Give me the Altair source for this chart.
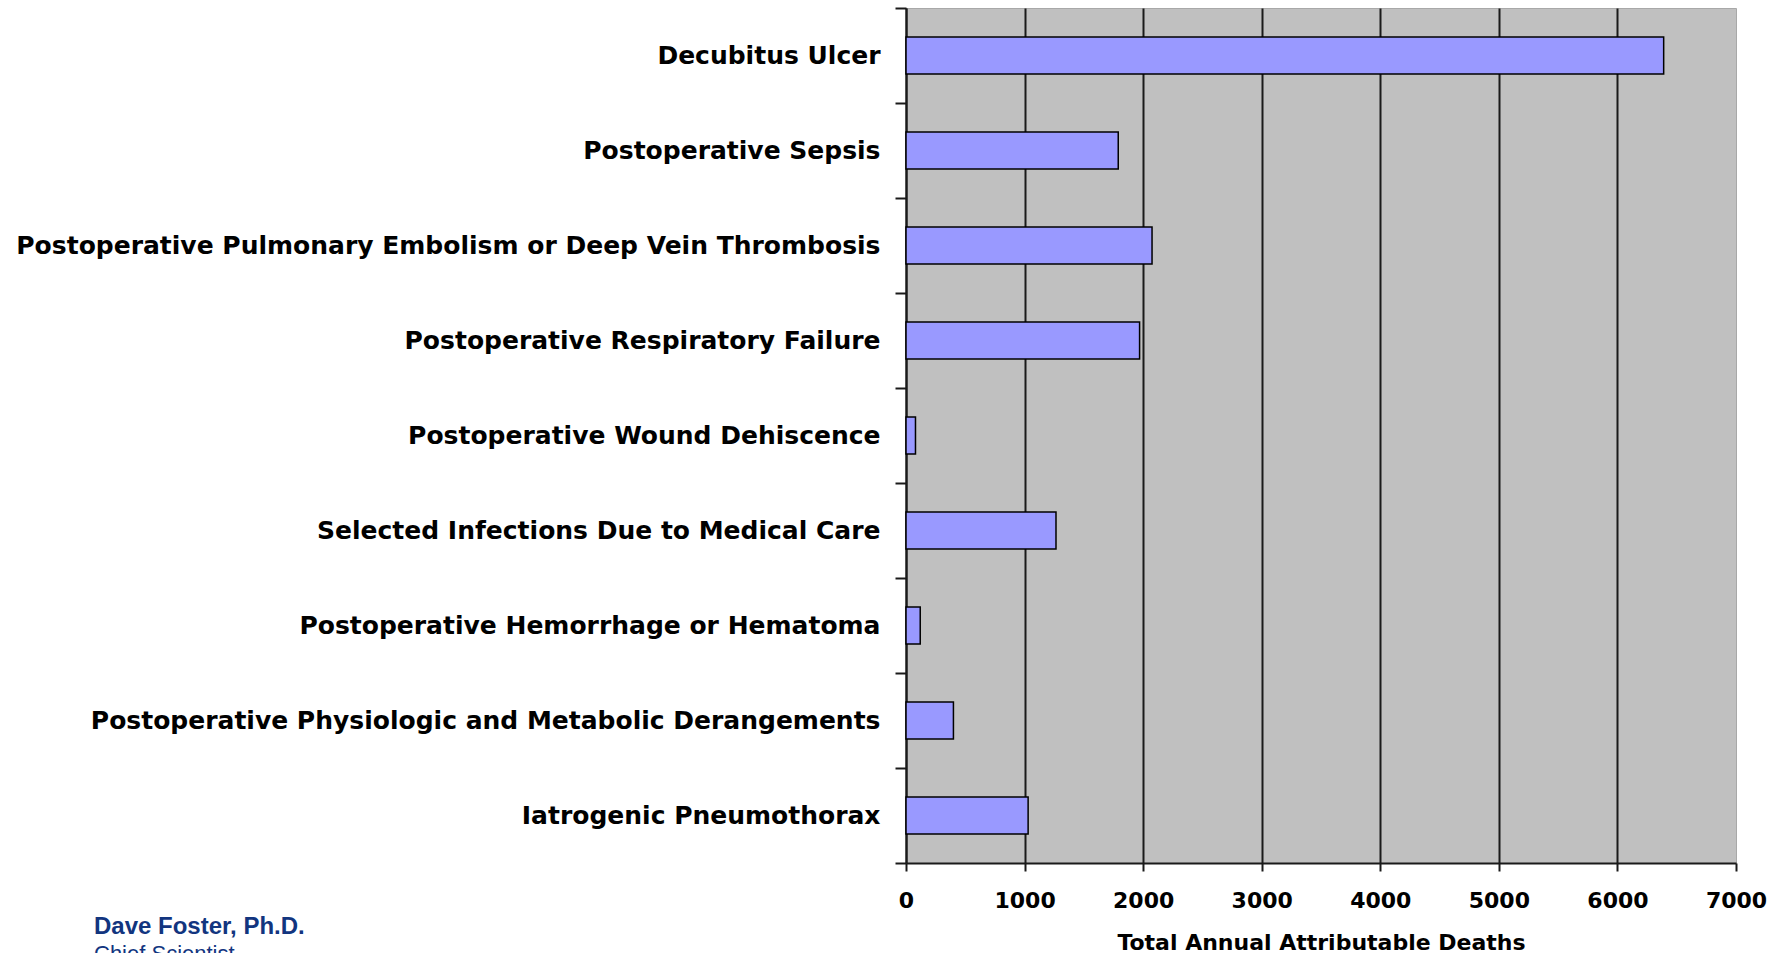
import altair as alt
import pandas as pd

categories = [
    "Decubitus Ulcer",
    "Postoperative Sepsis",
    "Postoperative Pulmonary Embolism or Deep Vein Thrombosis",
    "Postoperative Respiratory Failure",
    "Postoperative Wound Dehiscence",
    "Selected Infections Due to Medical Care",
    "Postoperative Hemorrhage or Hematoma",
    "Postoperative Physiologic and Metabolic Derangements",
    "Iatrogenic Pneumothorax",
]
deaths = [6390, 1790, 2075, 1970, 80, 1265, 120, 400, 1030]
x_ticks = [0, 1000, 2000, 3000, 4000, 5000, 6000, 7000]
x_title = "Total Annual Attributable Deaths"
author_name = ["Dave Foster, Ph.D."]
author_role = ["Chief Scientist"]

df = pd.DataFrame({"category": categories, "deaths": deaths})

bars = alt.Chart(df).mark_bar(
    color="#9999FF", stroke="#000000", strokeWidth=1.5,
    height=alt.RelativeBandSize(0.39),
).encode(
    x=alt.X(
        "deaths:Q",
        scale=alt.Scale(domain=[0, 7000], nice=False, zero=True),
        axis=alt.Axis(
            values=x_ticks,
            title=x_title,
            format="d",
            grid=True,
            gridColor="#1a1a1a",
            gridWidth=2,
            gridOpacity={"condition": {"test": "datum.value === 7000", "value": 0}, "value": 1},
            domainColor="#1a1a1a",
            domainWidth=2,
            tickColor="#1a1a1a",
            tickWidth=2,
            tickSize=8,
            labelFont="DejaVu Sans",
            labelFontWeight="bold",
            labelFontSize=22,
            labelColor="#000000",
            labelPadding=19,
            labelFlush=False,
            titleFont="DejaVu Sans",
            titleFontWeight="bold",
            titleFontSize=22,
            titleColor="#000000",
            titlePadding=21,
        ),
    ),
    y=alt.Y(
        "category:N",
        sort=categories,
        scale=alt.Scale(paddingInner=0, paddingOuter=0),
        axis=alt.Axis(
            title=None,
            tickBand="extent",
            grid=False,
            domainColor="#1a1a1a",
            domainWidth=2,
            tickColor="#1a1a1a",
            tickWidth=2,
            tickSize=11,
            labelFont="DejaVu Sans",
            labelFontWeight="bold",
            labelFontSize=25,
            labelColor="#000000",
            labelPadding=15,
            labelLimit=1000,
        ),
    ),
)

name_text = alt.Chart(pd.DataFrame({"t": author_name})).mark_text(
    align="left", baseline="alphabetic", font="Liberation Sans",
    fontWeight="bold", fontSize=24, color="#12357F"
).encode(text="t:N", x=alt.value(-812), y=alt.value(926))

role_text = alt.Chart(pd.DataFrame({"t": author_role})).mark_text(
    align="left", baseline="alphabetic", font="Liberation Sans",
    fontWeight="normal", fontSize=22, color="#12357F"
).encode(text="t:N", x=alt.value(-812), y=alt.value(953))

chart = alt.layer(bars, name_text, role_text).properties(
    width=830,
    height=855,
    autosize=alt.AutoSizeParams(type="none"),
    padding={"left": 906, "top": 8, "right": 51, "bottom": 90},
    background="#FFFFFF",
).configure_view(
    fill="#C0C0C0",
    stroke="#A8A8A8",
    strokeWidth=1,
)

chart.save("out.html", embed_options={"renderer": "svg", "actions": False})
